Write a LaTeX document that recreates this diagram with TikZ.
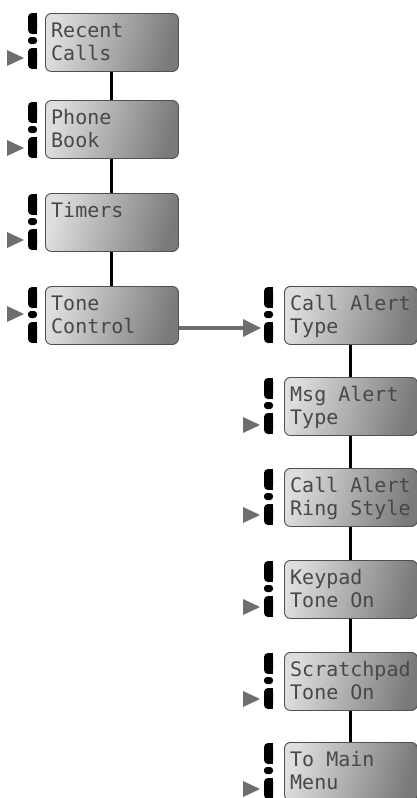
\documentclass[tikz,border=0pt]{standalone}
\usepackage{fontspec}
\newfontfamily\lcdfont{DejaVu Sans Mono}
\usetikzlibrary{arrows.meta}
\definecolor{boxlight}{HTML}{DEDEDE}
\definecolor{boxdark}{HTML}{7A7A7A}
\definecolor{boxedge}{HTML}{505050}
\definecolor{lcdink}{HTML}{484848}
\definecolor{pointer}{HTML}{6E6E6E}
\tikzset{
  menubox/.style={draw=boxedge, line width=0.9pt, rounded corners=6pt,
    left color=boxlight, right color=boxdark, shading angle=75,
    minimum width=133pt, minimum height=58pt, inner sep=0pt},
  lcdtext/.style={font=\lcdfont\fontsize{20}{23}\selectfont, text=lcdink,
    inner sep=0pt, anchor=base west},
  bracketfill/.style={fill=black},
  pointerfill/.style={fill=pointer},
  vlink/.style={draw=black, line width=3pt},
  hlink/.style={draw=pointer, line width=3.5pt,
    -{Triangle[length=18pt,width=17pt]}}
}
% name, x, top, line1, line2
\newcommand\menuitem[5]{%
  \node[menubox, anchor=north west] (#1) at (#2,#3) {};
  \node[lcdtext] (#1-a) at ({#2+6},{#3+24}) {#4};
  \node[lcdtext] (#1-b) at ({#2+6},{#3+47}) {#5};
}
% x, top of bracket
\newcommand\menubracket[2]{%
  \fill[bracketfill, rounded corners=4pt] (#1,#2) rectangle ({#1+9},{#2+21});
  \fill[bracketfill] ({#1+5},#2) rectangle ({#1+9},{#2+21});
  \fill[bracketfill, rounded corners=3pt] (#1,{#2+24}) rectangle ({#1+9},{#2+31});
  \fill[bracketfill, rounded corners=4pt] (#1,{#2+35}) rectangle ({#1+9},{#2+56});
  \fill[bracketfill] ({#1+5},{#2+35}) rectangle ({#1+9},{#2+56});
}
% bracket x, centre y
\newcommand\menupointer[2]{%
  \fill[pointerfill] ({#1-21},{#2-8}) -- ({#1-4},#2) -- ({#1-21},{#2+8}) -- cycle;
}
\begin{document}
\begin{tikzpicture}[x=1pt,y=-1pt]
\useasboundingbox (0,0) rectangle (416,798);
% left column
\menuitem{rc}{45}{13}{Recent}{Calls}
\menuitem{pb}{45}{100}{Phone}{Book}
\menuitem{tm}{45}{193}{Timers}{}
\menuitem{tc}{45}{286}{Tone}{Control}
\menubracket{28}{13}  \menupointer{28}{58}
\menubracket{28}{102} \menupointer{28}{148}
\menubracket{28}{194} \menupointer{28}{240}
\menubracket{28}{287} \menupointer{28}{314}
% right column
\menuitem{ca}{284}{286}{Call Alert}{Type}
\menuitem{ma}{284}{377}{Msg Alert}{Type}
\menuitem{cr}{284}{468}{Call Alert}{Ring Style}
\menuitem{kp}{284}{560}{Keypad}{Tone On}
\menuitem{sp}{284}{652}{Scratchpad}{Tone On}
\menuitem{mm}{284}{742}{To Main}{Menu}
\menubracket{264}{287}
\menubracket{264}{378} \menupointer{264}{425}
\menubracket{264}{469} \menupointer{264}{515}
\menubracket{264}{561} \menupointer{264}{607}
\menubracket{264}{653} \menupointer{264}{699}
\menubracket{264}{743} \menupointer{264}{789}
% connectors
\draw[vlink] (rc.south) -- (pb.north);
\draw[vlink] (pb.south) -- (tm.north);
\draw[vlink] (tm.south) -- (tc.north);
\draw[vlink] (ca.south) -- (ma.north);
\draw[vlink] (ma.south) -- (cr.north);
\draw[vlink] (cr.south) -- (kp.north);
\draw[vlink] (kp.south) -- (sp.north);
\draw[vlink] (sp.south) -- (mm.north);
\coordinate (arrowtip) at (261,328);
\coordinate (arrowstart) at (tc.east |- arrowtip);
\draw[hlink] (arrowstart) -- (arrowtip);
\end{tikzpicture}
\end{document}
